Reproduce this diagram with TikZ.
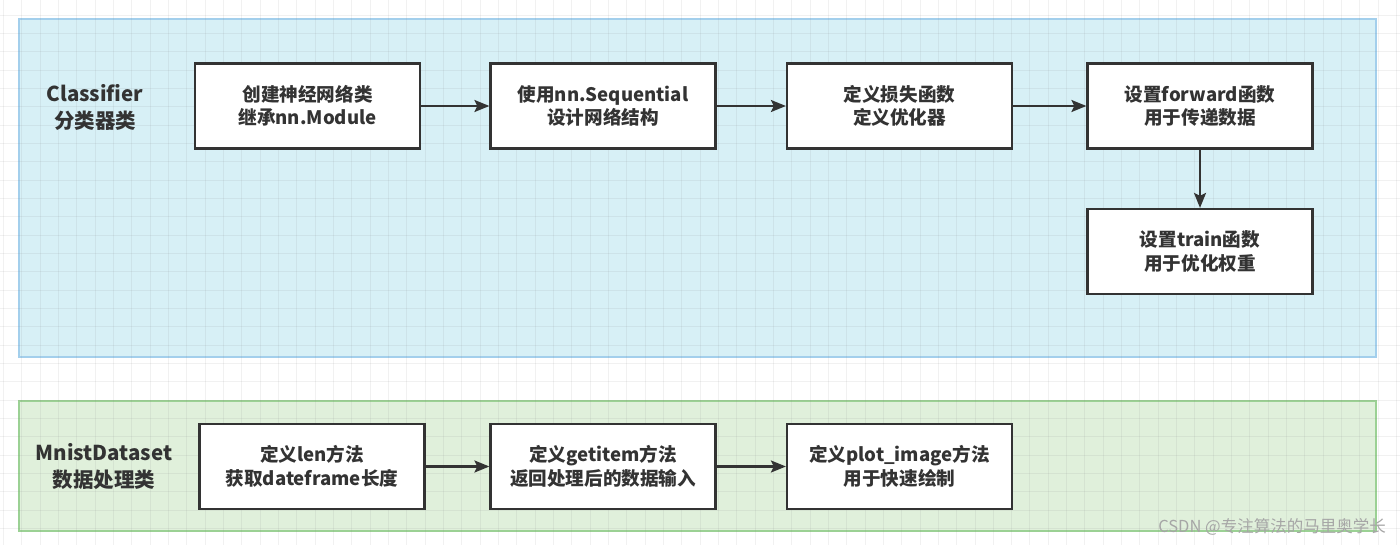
\documentclass[tikz,border=0pt]{standalone}
\usepackage{fontspec}
\setmainfont{Noto Sans CJK SC}
\usetikzlibrary{arrows.meta}
\definecolor{bluefill}{HTML}{D7F0F6}
\definecolor{blueline}{HTML}{A3CFEC}
\definecolor{greenfill}{HTML}{E0F0DB}
\definecolor{greenline}{HTML}{9BD194}
\definecolor{ink}{HTML}{333333}
\tikzset{
  x=1pt, y=-1pt,
  stepbox/.style={draw=ink, line width=2.2pt, fill=white, minimum width=225pt, minimum height=85pt,
    inner sep=0pt, align=center, text=ink, font=\fontsize{18.6}{23.5}\selectfont\bfseries},
  conn/.style={draw=ink, line width=2.4pt, -{Stealth[length=15pt,width=12pt,inset=3pt]}},
  grouplabel/.style={align=center, text=ink, font=\fontsize{20.5}{27}\selectfont\bfseries},
  container/.style={line width=1.5pt, minimum width=1357pt, inner sep=0pt},
}
\begin{document}
\begin{tikzpicture}
\useasboundingbox (0,0) rectangle (1400,545);
\fill[white] (0,0) rectangle (1400,545);
% containers
\node[container, draw=blueline, fill=bluefill, minimum height=338pt] (cls) at (697.5,188) {};
\node[container, draw=greenline, fill=greenfill, minimum height=130pt] (mds) at (697.5,466) {};
% grid
\foreach \i in {0,...,76} {
  \draw[gray, opacity=0.11, line width=0.8pt] ({3.4+18.33*\i},0) -- ({3.4+18.33*\i},545);
}
\foreach \j in {0,...,30} {
  \draw[gray, opacity=0.11, line width=0.8pt] (0,{-3.3+18.33*\j}) -- (1400,{-3.3+18.33*\j});
}
% labels
\node[grouplabel] (lcls) at (95,107) {Classifier\\分类器类};
\node[grouplabel] (lmds) at (104,467) {MnistDataset\\数据处理类};
% boxes
\node[stepbox] (b1) at (307.5,106) {创建神经网络类\\继承nn.Module};
\node[stepbox] (b2) at (603,106) {使用nn.Sequential\\设计网络结构};
\node[stepbox] (b3) at (899.5,106) {定义损失函数\\定义优化器};
\node[stepbox] (b4) at (1200,106) {设置forward函数\\用于传递数据};
\node[stepbox] (b5) at (1200,251.5) {设置train函数\\用于优化权重};
\node[stepbox] (b6) at (312,466.5) {定义len方法\\获取dateframe长度};
\node[stepbox] (b7) at (603,466.5) {定义getitem方法\\返回处理后的数据输入};
\node[stepbox] (b8) at (899.5,466.5) {定义plot\_image方法\\用于快速绘制};
% connectors
\draw[conn] (b1) -- (b2);
\draw[conn] (b2) -- (b3);
\draw[conn] (b3) -- (b4);
\draw[conn] (b4) -- (b5);
\draw[conn] (b6) -- (b7);
\draw[conn] (b7) -- (b8);
% watermark
\node[text=gray!70, font=\fontsize{16.5}{19}\selectfont, anchor=east, inner sep=0pt] (wm) at (1386,527) {CSDN @专注算法的马里奥学长};
\end{tikzpicture}
\end{document}
